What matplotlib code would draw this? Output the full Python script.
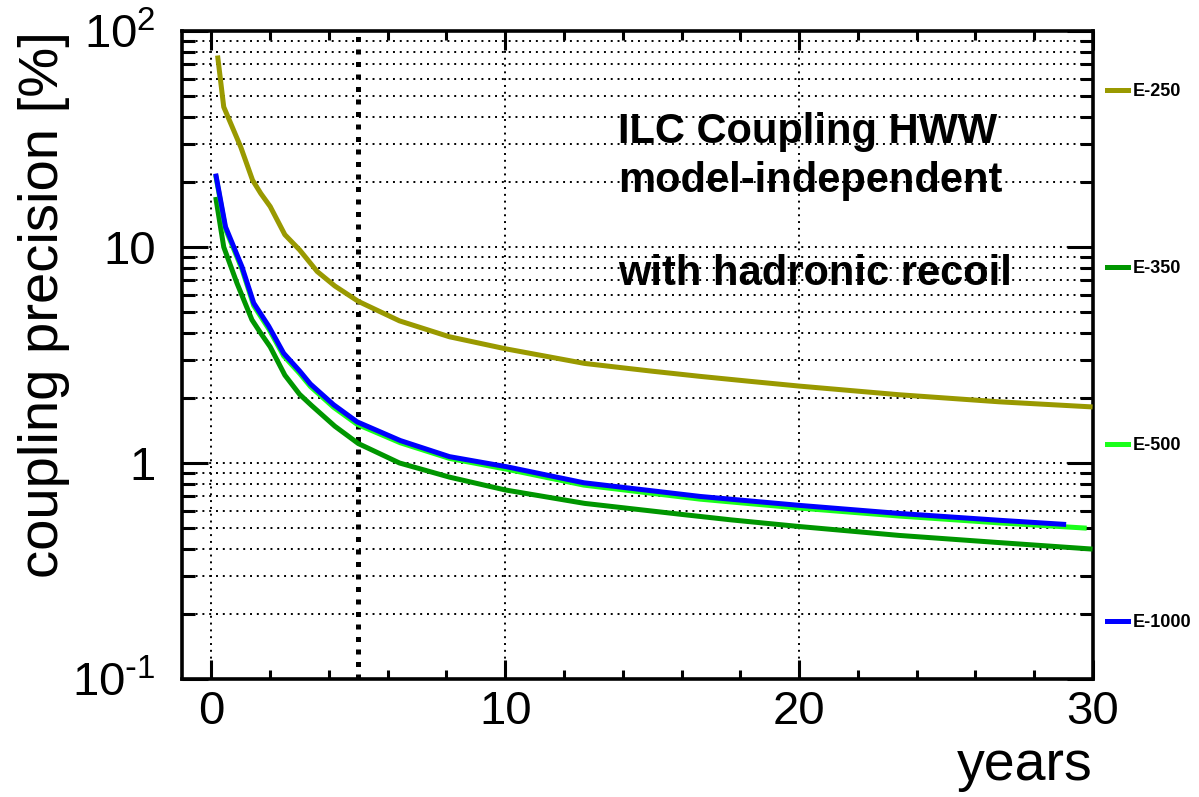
import matplotlib
matplotlib.use("Agg")
import matplotlib.pyplot as plt
from matplotlib.ticker import MultipleLocator, LogLocator, NullFormatter

plt.rcParams["font.family"] = ["Liberation Sans", "DejaVu Sans"]
plt.rcParams["mathtext.default"] = "regular"

# years of running vs. coupling precision [%]
years_250 = [0.22, 0.42, 1.0, 1.4, 1.68, 2.0, 2.5, 3.0, 3.6, 4.2, 5.0, 6.4,
             8.1, 10.0, 12.7, 15.0, 16.6, 18.3, 20.0, 23.4, 26.8, 29.9]
prec_250 = [75, 44.5, 29, 20.4, 17.7, 15.4, 11.4, 9.7, 7.7, 6.6, 5.6, 4.55,
            3.84, 3.38, 2.89, 2.66, 2.52, 2.39, 2.27, 2.07, 1.92, 1.82]

years_350 = [0.16, 0.42, 0.87, 1.38, 1.7, 2.0, 2.5, 3.0, 3.4, 4.2, 5.0, 6.4,
             8.1, 10.0, 12.7, 16.0, 17.7, 20.0, 23.4, 26.8, 29.9]
prec_350 = [16.6, 10.0, 6.8, 4.6, 3.95, 3.45, 2.55, 2.08, 1.85, 1.48, 1.23, 1.0,
            0.86, 0.75, 0.65, 0.578, 0.545, 0.508, 0.462, 0.428, 0.40]

years_500 = [0.16, 0.48, 1.04, 1.44, 1.95, 2.46, 3.0, 3.37, 4.16, 4.96, 6.43,
             8.1, 10.06, 12.67, 16.63, 18.33, 20.03, 23.4, 26.8, 29.7]
prec_500 = [21.0, 12.1, 7.9, 5.35, 4.18, 3.13, 2.6, 2.26, 1.81, 1.51, 1.24,
            1.05, 0.935, 0.79, 0.68, 0.648, 0.618, 0.568, 0.528, 0.50]

years_1000 = [0.16, 0.48, 1.04, 1.44, 1.95, 2.46, 3.0, 3.37, 4.16, 4.96, 6.43,
              8.1, 10.06, 12.67, 16.63, 18.33, 20.03, 23.4, 26.8, 29.0]
prec_1000 = [21.3, 12.4, 8.1, 5.5, 4.3, 3.22, 2.67, 2.32, 1.86, 1.55, 1.27,
             1.07, 0.96, 0.81, 0.70, 0.667, 0.636, 0.584, 0.543, 0.52]

series = [
    ("E-250", years_250, prec_250, "#999900"),
    ("E-350", years_350, prec_350, "#009600"),
    ("E-500", years_500, prec_500, "#1aff1a"),
    ("E-1000", years_1000, prec_1000, "#0000ff"),
]

ytick_values = [0.1, 1, 10, 100]
ytick_labels = [r"10$^{\text{-}1}$", "1", "10", "10$^{2}$"]
xtick_values = [0, 10, 20, 30]
five_years = 5

info_lines = ["ILC Coupling HWW", "model-independent", "with hadronic recoil"]
info_baselines = [0.8272, 0.7515, 0.608]  # axes fraction

fig = plt.figure(figsize=(11.99, 7.97), dpi=100)
ax = fig.add_axes([0.1518, 0.1481, 0.7598, 0.8130])

handles = []
for name, x, y, color in series:
    line, = ax.plot(x, y, color=color, lw=3.6, label=name,
                    solid_joinstyle="round", zorder=3)
    handles.append(line)

ax.axvline(five_years, color="black", lw=3.6, ls=(0, (1, 1.5)),
           dash_capstyle="butt", zorder=2)

ax.set_yscale("log")
ax.set_xlim(-1, 30)
ax.set_ylim(0.1, 100)

ax.set_xticks(xtick_values)
ax.xaxis.set_minor_locator(MultipleLocator(2))
ax.set_yticks(ytick_values, ytick_labels)
ax.yaxis.set_minor_locator(LogLocator(base=10, subs=range(2, 10)))
ax.yaxis.set_minor_formatter(NullFormatter())

ax.grid(True, which="major", axis="x", color="black", lw=1.4, ls=(0, (1, 2.5)))
ax.grid(True, which="both", axis="y", color="black", lw=1.4, ls=(0, (1, 2.5)))
ax.set_axisbelow(True)

ax.tick_params(which="both", direction="in", top=True, right=True,
               width=2.2, labelsize=34)
ax.tick_params(axis="x", which="major", length=14, pad=8)
ax.tick_params(axis="x", which="minor", length=6.5)
ax.tick_params(axis="y", which="major", length=19, pad=19)
ax.tick_params(axis="y", which="minor", length=9.5)
for spine in ax.spines.values():
    spine.set_linewidth(2.6)

ax.set_ylabel("coupling precision [%]", fontsize=40.5, loc="top")
ax.yaxis.set_label_coords(-0.123, 1.0)
fig.text(0.9116, 0.0213, "years", fontsize=40, ha="right", va="baseline")

for txt, yb in zip(info_lines, info_baselines):
    ax.text(0.4786, yb, txt, transform=ax.transAxes, fontsize=30,
            fontweight="bold", ha="left", va="baseline")

fig.legend(handles=handles, loc="upper left", bbox_to_anchor=(0.923, 0.8955),
           frameon=False, prop={"size": 13, "weight": "bold"},
           handlelength=1.16, handletextpad=0.28, labelspacing=8.86,
           borderpad=0, borderaxespad=0)

fig.savefig("out.png", dpi=100)
